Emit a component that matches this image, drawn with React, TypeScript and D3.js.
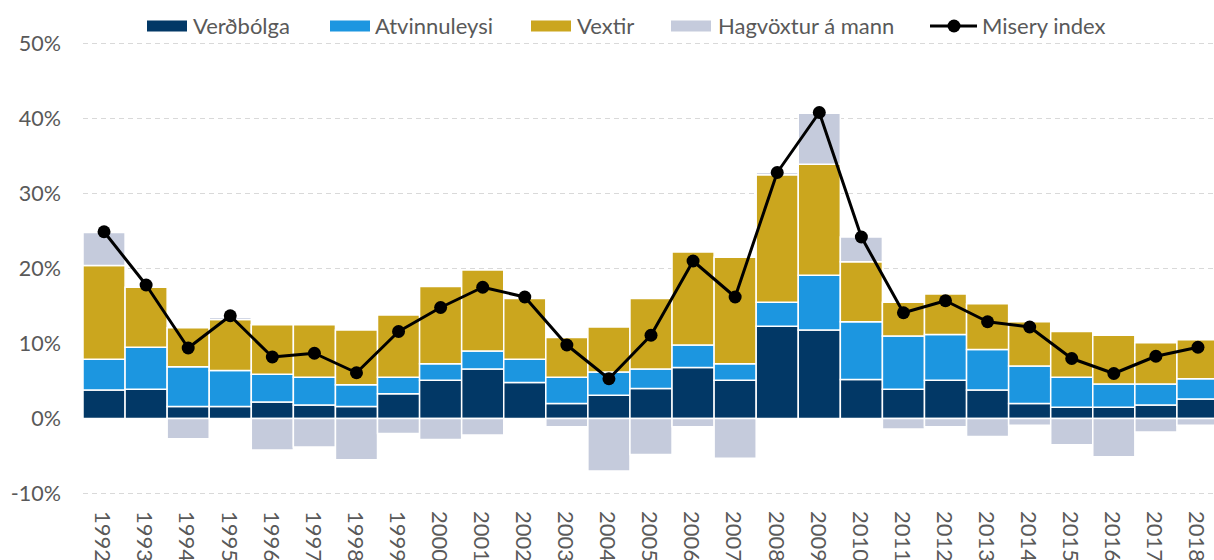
import React, { useEffect, useRef } from 'react';
import * as d3 from 'd3';

// Chart data (percent)
const years = [
  '1992', '1993', '1994', '1995', '1996', '1997', '1998', '1999', '2000',
  '2001', '2002', '2003', '2004', '2005', '2006', '2007', '2008', '2009',
  '2010', '2011', '2012', '2013', '2014', '2015', '2016', '2017', '2018',
];
const verdbolga = [3.8, 3.9, 1.6, 1.6, 2.2, 1.8, 1.6, 3.3, 5.1, 6.6, 4.8, 2.0, 3.1, 4.0, 6.8, 5.1, 12.3, 11.8, 5.2, 3.9, 5.1, 3.8, 2.0, 1.5, 1.5, 1.8, 2.6];
const atvinnuleysi = [4.1, 5.6, 5.3, 4.8, 3.7, 3.7, 2.9, 2.2, 2.2, 2.4, 3.1, 3.5, 3.1, 2.6, 3.0, 2.2, 3.2, 7.3, 7.7, 7.1, 6.1, 5.4, 5.0, 4.0, 3.1, 2.8, 2.7];
const vextir = [12.5, 8.0, 5.2, 6.8, 6.6, 7.0, 7.3, 8.3, 10.3, 10.8, 8.1, 5.3, 6.0, 9.4, 12.4, 14.2, 17.0, 14.8, 8.0, 4.5, 5.4, 6.1, 5.9, 6.1, 6.5, 5.5, 5.2];
const hagvoxtur = [4.4, 0.0, -2.7, 0.3, -4.2, -3.8, -5.5, -2.0, -2.8, -2.2, 0.0, -1.1, -7.0, -4.8, -1.1, -5.3, 0.3, 6.8, 3.3, -1.4, -1.1, -2.4, -0.9, -3.5, -5.1, -1.8, -0.9];
const misery = [24.9, 17.8, 9.4, 13.7, 8.2, 8.7, 6.1, 11.6, 14.8, 17.5, 16.2, 9.8, 5.3, 11.1, 21.0, 16.2, 32.8, 40.8, 24.2, 14.1, 15.7, 12.9, 12.2, 8.0, 6.0, 8.3, 9.5];
const yTicks = [-10, 0, 10, 20, 30, 40, 50];

const seriesNames = ['Verðbólga', 'Atvinnuleysi', 'Vextir', 'Hagvöxtur á mann'];
const seriesColors = ['#023866', '#1c96e0', '#cba61e', '#c5cbdc'];
const lineName = 'Misery index';

const FONT = 'Lato, "Open Sans", sans-serif';

const App: React.FC = () => {
  const svgRef = useRef<SVGSVGElement>(null);

  useEffect(() => {
    const svg = d3.select(svgRef.current);
    svg.selectAll('*').remove();

    const width = 1214;
    const height = 560;

    const x = d3.scaleBand<string>()
      .domain(years)
      .range([83, 1219])
      .padding(0);

    const y = d3.scaleLinear()
      .domain([-10, 50])
      .range([493.5, 43.5]);

    // Grid lines
    const grid = svg.append('g');
    yTicks.forEach(t => {
      grid.append('line')
        .attr('x1', 83)
        .attr('x2', width)
        .attr('y1', y(t))
        .attr('y2', y(t))
        .attr('stroke', '#d9d9d9')
        .attr('stroke-width', 1)
        .attr('stroke-dasharray', '5,4');
    });

    // Y tick labels
    svg.append('g')
      .selectAll('text')
      .data(yTicks)
      .enter()
      .append('text')
      .attr('x', 61)
      .attr('y', d => y(d))
      .attr('dy', '0.35em')
      .attr('text-anchor', 'end')
      .style('font-family', FONT)
      .style('font-size', '21.5px')
      .style('fill', '#595959')
      .text(d => `${d}%`);

    // Stacked bars: positives stack upward, negatives downward
    const series = [verdbolga, atvinnuleysi, vextir, hagvoxtur];
    const bars = svg.append('g');
    years.forEach((yr, i) => {
      let pos = 0;
      let neg = 0;
      series.forEach((s, k) => {
        const v = s[i];
        if (!v) return;
        let y0: number;
        let y1: number;
        if (v >= 0) {
          y0 = pos;
          y1 = pos + v;
          pos = y1;
        } else {
          y0 = neg;
          y1 = neg + v;
          neg = y1;
        }
        bars.append('rect')
          .attr('x', x(yr)!)
          .attr('width', x.bandwidth())
          .attr('y', y(Math.max(y0, y1)))
          .attr('height', Math.abs(y(y0) - y(y1)))
          .attr('fill', seriesColors[k])
          .attr('stroke', '#ffffff')
          .attr('stroke-width', 1.5);
      });
    });

    // Misery index line
    const line = d3.line<number>()
      .x((_, i) => x(years[i])! + x.bandwidth() / 2)
      .y(d => y(d));

    svg.append('path')
      .datum(misery)
      .attr('fill', 'none')
      .attr('stroke', '#000000')
      .attr('stroke-width', 3)
      .attr('stroke-linejoin', 'round')
      .attr('d', line);

    svg.append('g')
      .selectAll('circle')
      .data(misery)
      .enter()
      .append('circle')
      .attr('cx', (_, i) => x(years[i])! + x.bandwidth() / 2)
      .attr('cy', d => y(d))
      .attr('r', 6.5)
      .attr('fill', '#000000');

    // X labels, rotated
    svg.append('g')
      .selectAll('text')
      .data(years)
      .enter()
      .append('text')
      .attr('transform', d => `translate(${x(d)! + x.bandwidth() / 2 - 1},511) rotate(90)`)
      .attr('dy', '0.35em')
      .attr('text-anchor', 'start')
      .style('font-family', FONT)
      .style('font-size', '22px')
      .style('fill', '#595959')
      .text(d => d);

    // Legend
    const legend = svg.append('g');
    const legendItems = [
      { sw: 147, tx: 193 },
      { sw: 330, tx: 375 },
      { sw: 531, tx: 577 },
      { sw: 671, tx: 718 },
    ];
    legendItems.forEach((it, k) => {
      legend.append('rect')
        .attr('x', it.sw)
        .attr('y', 20.5)
        .attr('width', 40)
        .attr('height', 11)
        .attr('fill', seriesColors[k]);
      legend.append('text')
        .attr('x', it.tx)
        .attr('y', 26)
        .attr('dy', '0.35em')
        .style('font-family', FONT)
        .style('font-size', '22px')
        .style('fill', '#595959')
        .text(seriesNames[k]);
    });
    legend.append('line')
      .attr('x1', 930)
      .attr('x2', 977)
      .attr('y1', 26)
      .attr('y2', 26)
      .attr('stroke', '#000000')
      .attr('stroke-width', 3);
    legend.append('circle')
      .attr('cx', 954)
      .attr('cy', 26)
      .attr('r', 6.5)
      .attr('fill', '#000000');
    legend.append('text')
      .attr('x', 982)
      .attr('y', 26)
      .attr('dy', '0.35em')
      .style('font-family', FONT)
      .style('font-size', '22px')
      .style('fill', '#595959')
      .text(lineName);

    svg.attr('width', width).attr('height', height);
  }, []);

  return (
    <svg
      ref={svgRef}
      width={1214}
      height={560}
      style={{ position: 'absolute', left: 0, top: 0, display: 'block', background: '#ffffff' }}
    />
  );
};

export default App;
